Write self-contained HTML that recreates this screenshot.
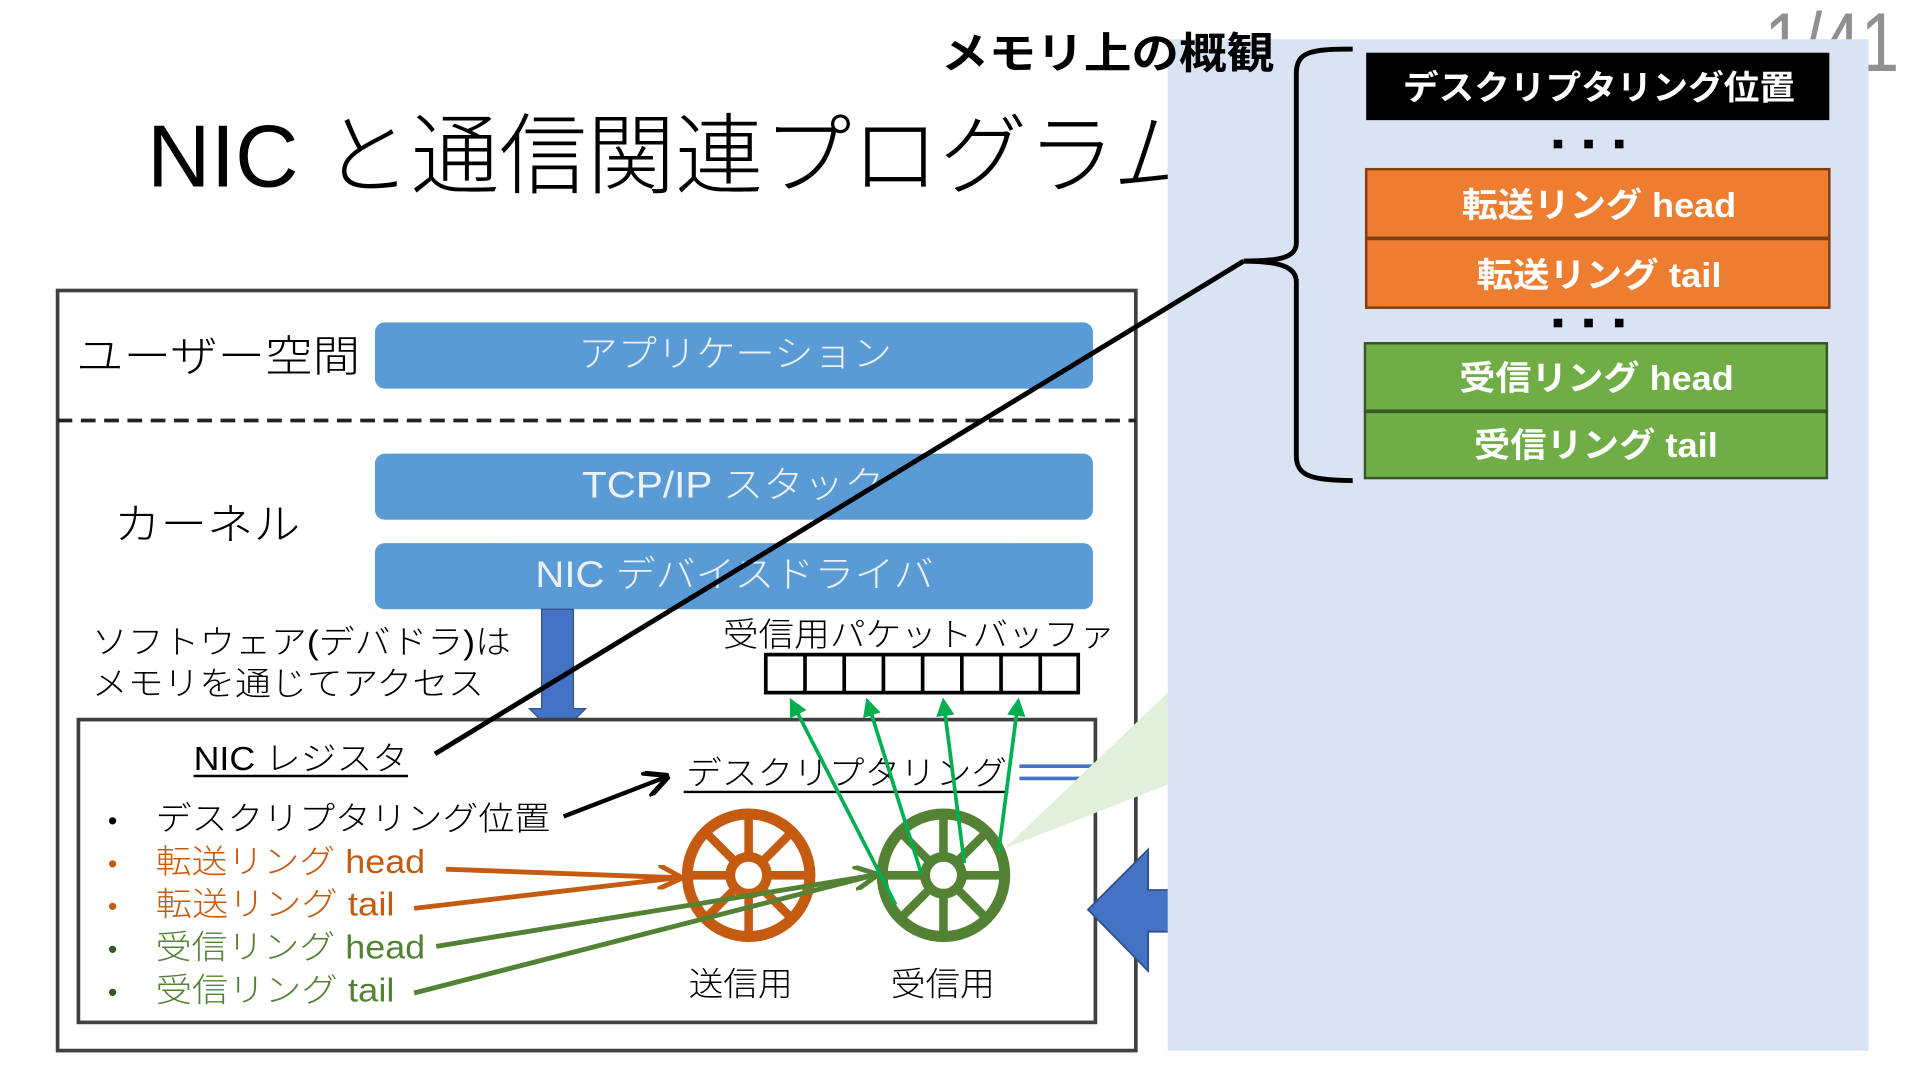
<!DOCTYPE html>
<html><head><meta charset="utf-8"><style>
html,body{margin:0;padding:0;background:#fff;}
svg{display:block;}
text{font-family:"Liberation Sans","Noto Sans CJK JP",sans-serif;}
.l{font-weight:300;}
</style></head><body>
<svg width="1920" height="1080" viewBox="0 0 1567 881" preserveAspectRatio="none" xmlns="http://www.w3.org/2000/svg">
<defs>
<marker id="ab" markerWidth="6" markerHeight="6" refX="5" refY="3" orient="auto" markerUnits="strokeWidth"><path d="M0,0 L6,3 L0,6" fill="none" stroke="#000" stroke-width="1.2"/></marker>
<marker id="ao" markerWidth="5" markerHeight="5" refX="4" refY="2.5" orient="auto" markerUnits="strokeWidth"><path d="M0,0 L5,2.5 L0,5" fill="none" stroke="#c55a11" stroke-width="1"/></marker>
<marker id="ag" markerWidth="5" markerHeight="5" refX="4" refY="2.5" orient="auto" markerUnits="strokeWidth"><path d="M0,0 L5,2.5 L0,5" fill="none" stroke="#548235" stroke-width="1"/></marker>
<marker id="ag2" markerWidth="5" markerHeight="5" refX="4" refY="2.5" orient="auto" markerUnits="strokeWidth"><path d="M0,0 L5,2.5 L0,5 Z" fill="#00b050"/></marker>
</defs>

<text x="120" y="152" font-size="72" class="l" textLength="860" lengthAdjust="spacingAndGlyphs">NIC と通信関連プログラム</text>
<text x="1440" y="58" font-size="68" fill="#909090" class="l" textLength="110" lengthAdjust="spacingAndGlyphs">1/41</text>

<rect x="47" y="237" width="880" height="620" fill="#fff" stroke="#404040" stroke-width="3"/>
<line x1="47" y1="343" x2="927" y2="343" stroke="#222" stroke-width="3" stroke-dasharray="12,7"/>
<text x="62" y="303" font-size="35" class="l" textLength="232" lengthAdjust="spacingAndGlyphs">ユーザー空間</text>
<rect x="306" y="263" width="586" height="54" rx="8" fill="#5b9bd5"/>
<text x="472" y="299" font-size="30" fill="#eaf1fb" class="l" textLength="256" lengthAdjust="spacingAndGlyphs">アプリケーション</text>
<text x="93" y="440" font-size="35" class="l" textLength="152" lengthAdjust="spacingAndGlyphs">カーネル</text>
<rect x="306" y="370" width="586" height="54" rx="8" fill="#5b9bd5"/>
<text x="475" y="406" font-size="30" fill="#eaf1fb" class="l" textLength="247" lengthAdjust="spacingAndGlyphs">TCP/IP スタック</text>
<rect x="306" y="443" width="586" height="54" rx="8" fill="#5b9bd5"/>
<text x="437" y="479" font-size="30" fill="#eaf1fb" class="l" textLength="325" lengthAdjust="spacingAndGlyphs">NIC デバイスドライバ</text>

<polygon points="442,497 468,497 468,578 478,578 455,601 432,578 442,578" fill="#4472c4" stroke="#2f528f" stroke-width="1"/>
<text x="75" y="533" font-size="27" class="l" textLength="342" lengthAdjust="spacingAndGlyphs">ソフトウェア(デバドラ)は</text>
<text x="75" y="567" font-size="27" class="l" textLength="320" lengthAdjust="spacingAndGlyphs">メモリを通じてアクセス</text>
<text x="590" y="527" font-size="27" class="l" textLength="320" lengthAdjust="spacingAndGlyphs">受信用パケットバッファ</text>
<rect x="625" y="534" width="255" height="31" fill="#fff" stroke="#000" stroke-width="3"/>
<g stroke="#000" stroke-width="3">
<line x1="657" y1="534" x2="657" y2="565"/><line x1="689" y1="534" x2="689" y2="565"/><line x1="721" y1="534" x2="721" y2="565"/><line x1="753" y1="534" x2="753" y2="565"/><line x1="785" y1="534" x2="785" y2="565"/><line x1="817" y1="534" x2="817" y2="565"/><line x1="849" y1="534" x2="849" y2="565"/>
</g>

<rect x="64" y="587" width="830" height="247" fill="#fff" stroke="#404040" stroke-width="3"/>
<text x="158" y="628" font-size="27" class="l" textLength="175" lengthAdjust="spacingAndGlyphs">NIC レジスタ</text>
<line x1="158" y1="633" x2="333" y2="633" stroke="#000" stroke-width="2"/>
<text x="88" y="677" font-size="22">•</text>
<text x="127" y="677" font-size="27" class="l" textLength="322" lengthAdjust="spacingAndGlyphs">デスクリプタリング位置</text>
<text x="88" y="712" font-size="22" fill="#c55a11">•</text>
<text x="127" y="712" font-size="27" fill="#c55a11" class="l" textLength="220" lengthAdjust="spacingAndGlyphs">転送リング head</text>
<text x="88" y="747" font-size="22" fill="#c55a11">•</text>
<text x="127" y="747" font-size="27" fill="#c55a11" class="l" textLength="195" lengthAdjust="spacingAndGlyphs">転送リング tail</text>
<text x="88" y="782" font-size="22" fill="#385723">•</text>
<text x="127" y="782" font-size="27" fill="#548235" class="l" textLength="220" lengthAdjust="spacingAndGlyphs">受信リング head</text>
<text x="88" y="817" font-size="22" fill="#385723">•</text>
<text x="127" y="817" font-size="27" fill="#548235" class="l" textLength="195" lengthAdjust="spacingAndGlyphs">受信リング tail</text>

<line x1="460" y1="666" x2="543" y2="634" stroke="#000" stroke-width="3.5" marker-end="url(#ab)"/>
<text x="560" y="640" font-size="27" class="l" textLength="262" lengthAdjust="spacingAndGlyphs">デスクリプタリング</text>
<line x1="558" y1="646" x2="823" y2="646" stroke="#000" stroke-width="2"/>
<line x1="832" y1="625" x2="942" y2="625" stroke="#4472c4" stroke-width="3"/>
<line x1="832" y1="635" x2="942" y2="635" stroke="#4472c4" stroke-width="3"/>
<polygon points="820,692 953,565 953,640" fill="#e2efda"/>

<g stroke="#c55a11" fill="none" stroke-width="9">
<circle cx="611" cy="714" r="50"/><circle cx="611" cy="714" r="15" stroke-width="8"/>
<path d="M611,664V699M611,729V764M561,714H596M626,714H661M576,679L600,703M622,725L646,749M646,679L622,703M600,725L576,749" stroke-width="7"/>
</g>
<g stroke="#548235" fill="none" stroke-width="9">
<circle cx="770" cy="714" r="50"/><circle cx="770" cy="714" r="15" stroke-width="8"/>
<path d="M770,664V699M770,729V764M720,714H755M785,714H820M735,679L759,703M781,725L805,749M805,679L781,703M759,725L735,749" stroke-width="7"/>
</g>
<line x1="364" y1="709" x2="553" y2="716" stroke="#c55a11" stroke-width="4" marker-end="url(#ao)"/>
<line x1="338" y1="741" x2="553" y2="716" stroke="#c55a11" stroke-width="4"/>
<line x1="356" y1="772" x2="713" y2="714" stroke="#548235" stroke-width="4" marker-end="url(#ag)"/>
<line x1="338" y1="810" x2="713" y2="714" stroke="#548235" stroke-width="4"/>
<g stroke="#00b050" stroke-width="3">
<line x1="731" y1="738" x2="646" y2="572" marker-end="url(#ag2)"/>
<line x1="752" y1="713" x2="708" y2="572" marker-end="url(#ag2)"/>
<line x1="787" y1="704" x2="770" y2="572" marker-end="url(#ag2)"/>
<line x1="815" y1="695" x2="831" y2="572" marker-end="url(#ag2)"/>
</g>
<text x="562" y="812" font-size="27" class="l" textLength="85" lengthAdjust="spacingAndGlyphs">送信用</text>
<text x="727" y="812" font-size="27" class="l" textLength="85" lengthAdjust="spacingAndGlyphs">受信用</text>
<polygon points="888,742 937,693 937,726 960,726 960,760 937,760 937,792" fill="#4472c4" stroke="#2f528f" stroke-width="1.5"/>

<rect x="953" y="32" width="572" height="825" fill="#dae3f3"/>
<text x="768" y="56" font-size="35" font-weight="bold" textLength="272" lengthAdjust="spacingAndGlyphs">メモリ上の概観</text>
<line x1="355" y1="615" x2="1015" y2="213" stroke="#000" stroke-width="4"/>
<path d="M1104,40 C1070,40 1058,42 1058,60 L1058,198 C1058,210 1045,213 1015,213 C1045,213 1058,218 1058,230 L1058,372 C1058,388 1070,392 1104,392" fill="none" stroke="#000" stroke-width="4"/>
<rect x="1115" y="43" width="378" height="55" fill="#000"/>
<text x="1145" y="81" font-size="28" font-weight="bold" fill="#fff" textLength="320" lengthAdjust="spacingAndGlyphs">デスクリプタリング位置</text>
<g fill="#000"><rect x="1268" y="114" width="7" height="7"/><rect x="1293" y="114" width="7" height="7"/><rect x="1318" y="114" width="7" height="7"/>
<rect x="1268" y="260" width="7" height="7"/><rect x="1293" y="260" width="7" height="7"/><rect x="1318" y="260" width="7" height="7"/></g>
<rect x="1115" y="138" width="378" height="56" fill="#ed7d31" stroke="#843c0c" stroke-width="2"/>
<rect x="1115" y="195" width="378" height="56" fill="#ed7d31" stroke="#843c0c" stroke-width="2"/>
<text x="1193" y="177" font-size="28" font-weight="bold" fill="#fff" textLength="224" lengthAdjust="spacingAndGlyphs">転送リング head</text>
<text x="1205" y="234" font-size="28" font-weight="bold" fill="#fff" textLength="200" lengthAdjust="spacingAndGlyphs">転送リング tail</text>
<rect x="1114" y="280" width="377" height="55" fill="#70ad47" stroke="#385723" stroke-width="2"/>
<rect x="1114" y="336" width="377" height="54" fill="#70ad47" stroke="#385723" stroke-width="2"/>
<text x="1191" y="318" font-size="28" font-weight="bold" fill="#fff" textLength="224" lengthAdjust="spacingAndGlyphs">受信リング head</text>
<text x="1203" y="373" font-size="28" font-weight="bold" fill="#fff" textLength="199" lengthAdjust="spacingAndGlyphs">受信リング tail</text>
</svg>
</body></html>
